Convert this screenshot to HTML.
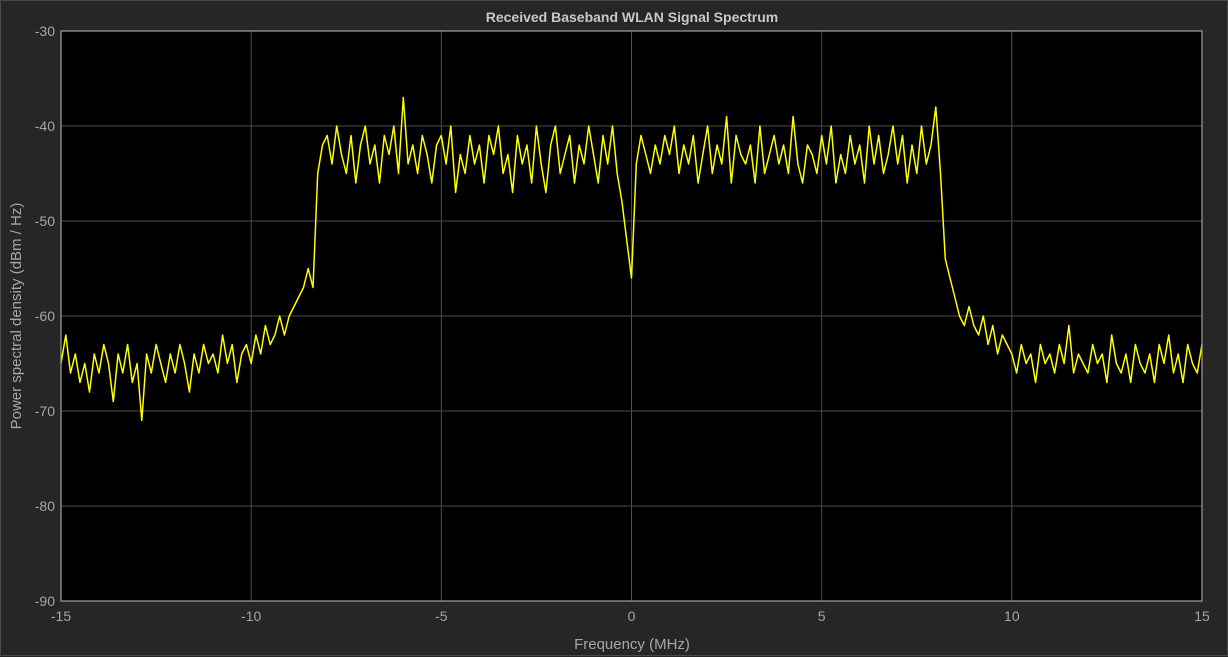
<!DOCTYPE html>
<html><head><meta charset="utf-8"><style>
html,body{margin:0;padding:0;background:#262626;}
svg{display:block;}
text{font-family:"Liberation Sans",Arial,sans-serif;}
</style></head><body>
<svg id="chart" width="1228" height="657" xmlns="http://www.w3.org/2000/svg">
<rect x="0" y="0" width="1228" height="657" fill="#262626"/>
<rect x="0.5" y="0.5" width="1227" height="655" fill="none" stroke="#4a4a4a"/>
<rect x="61" y="31" width="1141" height="570" fill="#000"/>
<g id="grid"></g>
<g id="series"></g>
<rect x="61" y="31" width="1141" height="570" fill="none" stroke="#a0a0a0" stroke-width="1.2"/>
<g id="ticks"></g>
<text x="632" y="22" text-anchor="middle" font-size="14" font-weight="bold" fill="#c8c8c8">Received Baseband WLAN Signal Spectrum</text>
<text x="632" y="649" text-anchor="middle" font-size="15" fill="#a6a6a6">Frequency (MHz)</text>
<text transform="translate(21,316) rotate(-90)" text-anchor="middle" font-size="15" fill="#a6a6a6">Power spectral density (dBm / Hz)</text>
</svg>
<script>
const xTicks = [-15,-10,-5,0,5,10,15];
const yTicks = [-30,-40,-50,-60,-70,-80,-90];
const freqStart = -15;
const freqStep = 0.125;
const psd = [
-65,-62,-66,-64,-67,-65,-68,-64,
-66,-63,-65,-69,-64,-66,-63,-67,
-65,-71,-64,-66,-63,-65,-67,-64,
-66,-63,-65,-68,-64,-66,-63,-65,
-64,-66,-62,-65,-63,-67,-64,-63,
-65,-62,-64,-61,-63,-62,-60,-62,
-60,-59,-58,-57,-55,-57,-45,-42,
-41,-44,-40,-43,-45,-41,-46,-42,
-40,-44,-42,-46,-41,-43,-40,-45,
-37,-44,-42,-45,-41,-43,-46,-42,
-41,-44,-40,-47,-43,-45,-41,-44,
-42,-46,-41,-43,-40,-45,-43,-47,
-41,-44,-42,-46,-40,-44,-47,-42,
-40,-45,-43,-41,-46,-42,-44,-40,
-43,-46,-41,-44,-40,-45,-48,-52,
-56,-44,-41,-43,-45,-42,-44,-41,
-43,-40,-45,-42,-44,-41,-46,-43,
-40,-45,-42,-44,-39,-46,-41,-43,
-44,-42,-46,-40,-45,-43,-41,-44,
-42,-45,-39,-44,-46,-42,-43,-45,
-41,-44,-40,-46,-43,-45,-41,-44,
-42,-46,-40,-44,-41,-45,-43,-40,
-44,-41,-46,-42,-45,-40,-44,-42,
-38,-45,-54,-56,-58,-60,-61,-59,
-61,-62,-60,-63,-61,-64,-62,-63,
-64,-66,-63,-65,-64,-67,-63,-65,
-64,-66,-63,-65,-61,-66,-64,-65,
-66,-63,-65,-64,-67,-62,-65,-66,
-64,-67,-63,-65,-66,-64,-67,-63,
-65,-62,-66,-64,-67,-63,-65,-66,
-63];
const L=61,R=1202,T=31,B=601;
const xS = v => L + (v+15)/30*(R-L);
const yS = v => T + (-30 - v)/60*(B-T);
const NS='http://www.w3.org/2000/svg';
const grid=document.getElementById('grid'), ticks=document.getElementById('ticks'), ser=document.getElementById('series');
xTicks.forEach(t=>{
  const x=xS(t);
  if(t>-15&&t<15){const l=document.createElementNS(NS,'line');
  
  
  l.setAttribute('x1',x);l.setAttribute('x2',x);l.setAttribute('y1',T);l.setAttribute('y2',B);
  l.setAttribute('stroke','#4d4d4d');l.setAttribute('stroke-width','1');grid.appendChild(l);}
  const tx=document.createElementNS(NS,'text');
  
  
  tx.setAttribute('x',x);tx.setAttribute('y',621);tx.setAttribute('text-anchor','middle');
  tx.setAttribute('font-size','14');tx.setAttribute('fill','#a6a6a6');tx.textContent=t;ticks.appendChild(tx);
});
yTicks.forEach(t=>{
  const y=yS(t);
  if(t<-30&&t>-90){const l=document.createElementNS(NS,'line');
  
  
  l.setAttribute('x1',L);l.setAttribute('x2',R);l.setAttribute('y1',y);l.setAttribute('y2',y);
  l.setAttribute('stroke','#4d4d4d');l.setAttribute('stroke-width','1');grid.appendChild(l);}
  const tx=document.createElementNS(NS,'text');
  
  
  tx.setAttribute('x',55);tx.setAttribute('y',y+5);tx.setAttribute('text-anchor','end');
  tx.setAttribute('font-size','14');tx.setAttribute('fill','#a6a6a6');tx.textContent=t;ticks.appendChild(tx);
});
const pts=psd.map((v,i)=>xS(freqStart+i*freqStep).toFixed(1)+','+yS(v).toFixed(1)).join(' ');
const pl=document.createElementNS(NS,'polyline');


pl.setAttribute('points',pts);pl.setAttribute('fill','none');pl.setAttribute('stroke','#ffff00');
pl.setAttribute('stroke-width','1.5');pl.setAttribute('stroke-linejoin','round');
ser.appendChild(pl);
</script>
</body></html>
